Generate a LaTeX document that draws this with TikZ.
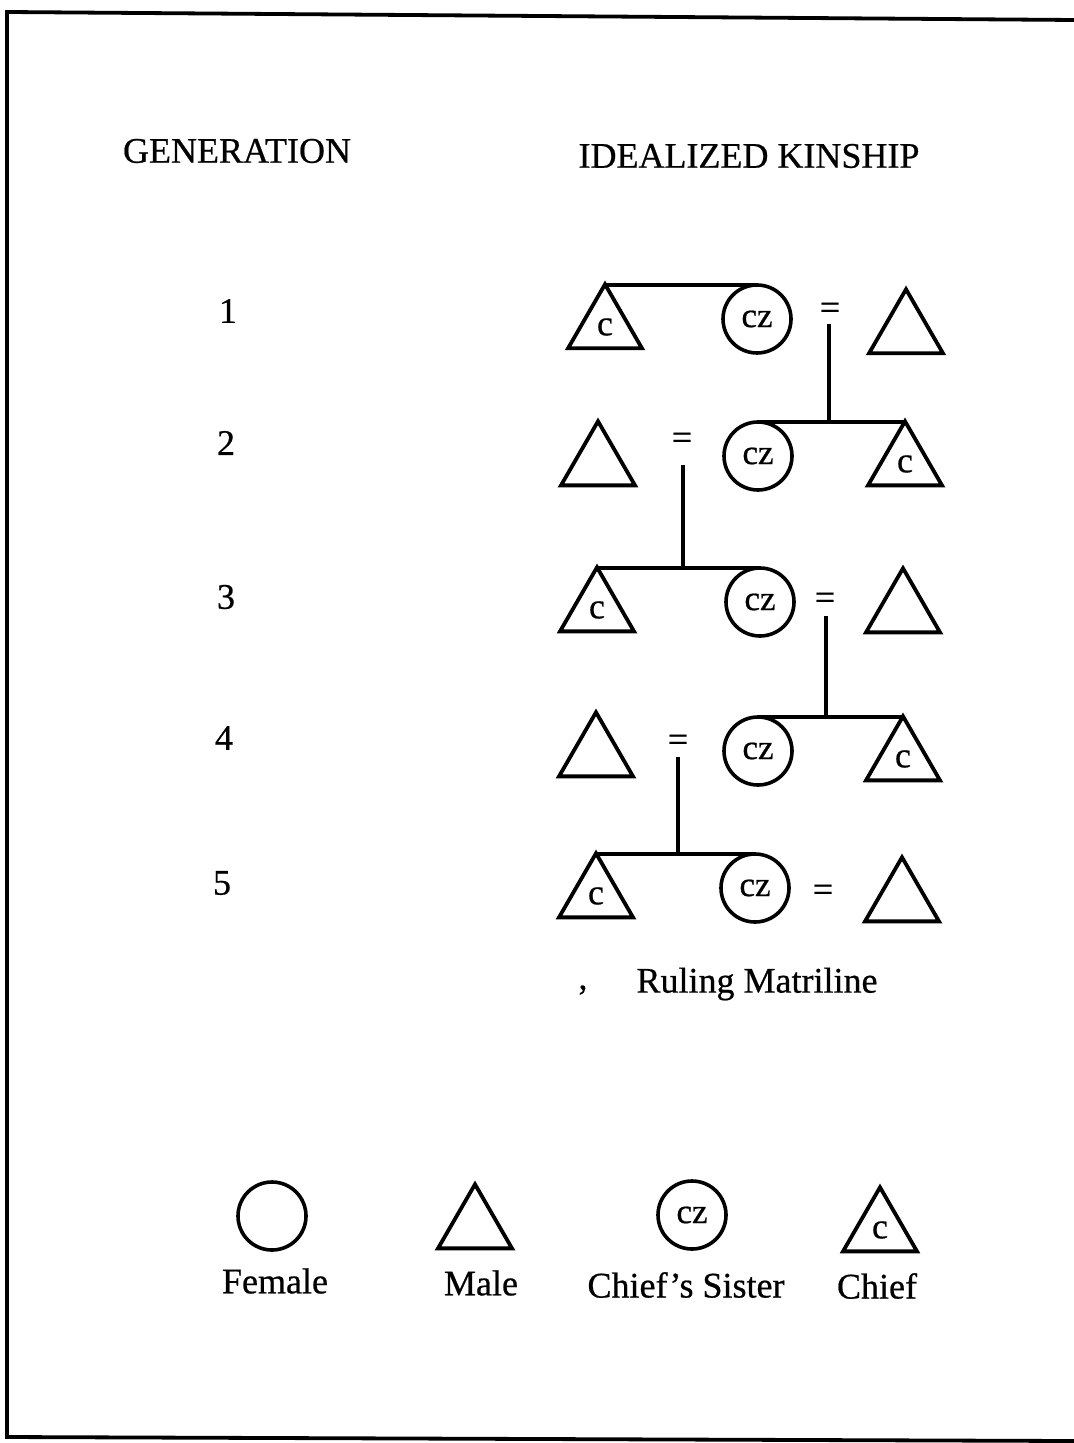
\documentclass[tikz,border=0pt]{standalone}
\usepackage{fontspec}
\setmainfont{Liberation Serif}[FakeBold=0.6]
\usetikzlibrary{shapes.geometric}
\begin{document}
\begin{tikzpicture}[x=0.5pt,y=-0.5pt,
  lbl/.style={font=\fontsize{18}{20}\selectfont, inner sep=0pt},
  male/.style={draw, line width=1.9pt, regular polygon, regular polygon sides=3, minimum size=42.7pt, inner sep=0pt, outer sep=0pt, font=\fontsize{18}{20}\selectfont},
  female/.style={draw, line width=1.8pt, circle, minimum size=34pt, inner sep=0pt, outer sep=0pt, font=\fontsize{17.5}{20}\selectfont},
  link/.style={line width=1.6pt},
  eqs/.style={font=\fontsize{18}{20}\selectfont, inner sep=0pt}
]
\useasboundingbox (0,0) rectangle (1074,1443);
% frame
\draw[line width=1.9pt] (1074,20) -- (7,12) -- (7,1437) -- (1074,1441);

% headings
\node[lbl] (hgen) at (237,151) {GENERATION};
\node[lbl] (hkin) at (749,156) {IDEALIZED KINSHIP};

% generation numbers
\node[lbl] (g1) at (228,311) {1};
\node[lbl] (g2) at (226,443) {2};
\node[lbl] (g3) at (226,597) {3};
\node[lbl] (g4) at (224,738) {4};
\node[lbl] (g5) at (222,883) {5};

% generation 1
\node[male] (t1l) at (605,327) {c};
\node[female] (c1) at (757,319) {cz};
\node[eqs] (e1) at (830,311) {=};
\node[male] (t1r) at (906,332) {};
% generation 2
\node[male] (t2l) at (598,464) {};
\node[eqs] (e2) at (682,441) {=};
\node[female] (c2) at (758,456) {cz};
\node[male] (t2r) at (905,464) {c};
% generation 3
\node[male] (t3l) at (597,610) {c};
\node[female] (c3) at (760,602) {cz};
\node[eqs] (e3) at (825,601) {=};
\node[male] (t3r) at (903,611) {};
% generation 4
\node[male] (t4l) at (596,755) {};
\node[eqs] (e4) at (678,743) {=};
\node[female] (c4) at (758,751) {cz};
\node[male] (t4r) at (903,759) {c};
% generation 5
\node[male] (t5l) at (596,896) {c};
\node[female] (c5) at (755,888) {cz};
\node[eqs] (e5) at (823,893) {=};
\node[male] (t5r) at (902,900) {};

% sibling lines
\draw[link] (t1l.corner 1 |- c1.north) -- (c1.north);
\draw[link] (c2.north) -- (c2.north -| t2r.corner 1);
\draw[link] (t3l.corner 1 |- c3.north) -- (c3.north);
\draw[link] (c4.north) -- (c4.north -| t4r.corner 1);
\draw[link] (t5l.corner 1 |- c5.north) -- (c5.north);

% descent lines
\coordinate (d1) at (829,324);
\coordinate (d2) at (683,465);
\coordinate (d3) at (826,616);
\coordinate (d4) at (678,757);
\draw[link] (d1) -- (d1 |- c2.north);
\draw[link] (d2) -- (d2 |- c3.north);
\draw[link] (d3) -- (d3 |- c4.north);
\draw[link] (d4) -- (d4 |- c5.north);

% ruling matriline
\node[lbl] (comma) at (583,990) {,};
\node[lbl] (rm) at (757,984) {Ruling Matriline};

% legend
\node[female] (lf) at (272,1216) {};
\node[male] (lm) at (475,1227) {};
\node[female] (lcz) at (692,1215) {cz};
\node[male] (lc) at (880,1230) {c};
\node[lbl] (lft) at (275,1281) {Female};
\node[lbl] (lmt) at (481,1283) {Male};
\node[lbl] (lczt) at (686,1285) {Chief's Sister};
\node[lbl] (lct) at (877,1286) {Chief};
\end{tikzpicture}
\end{document}
